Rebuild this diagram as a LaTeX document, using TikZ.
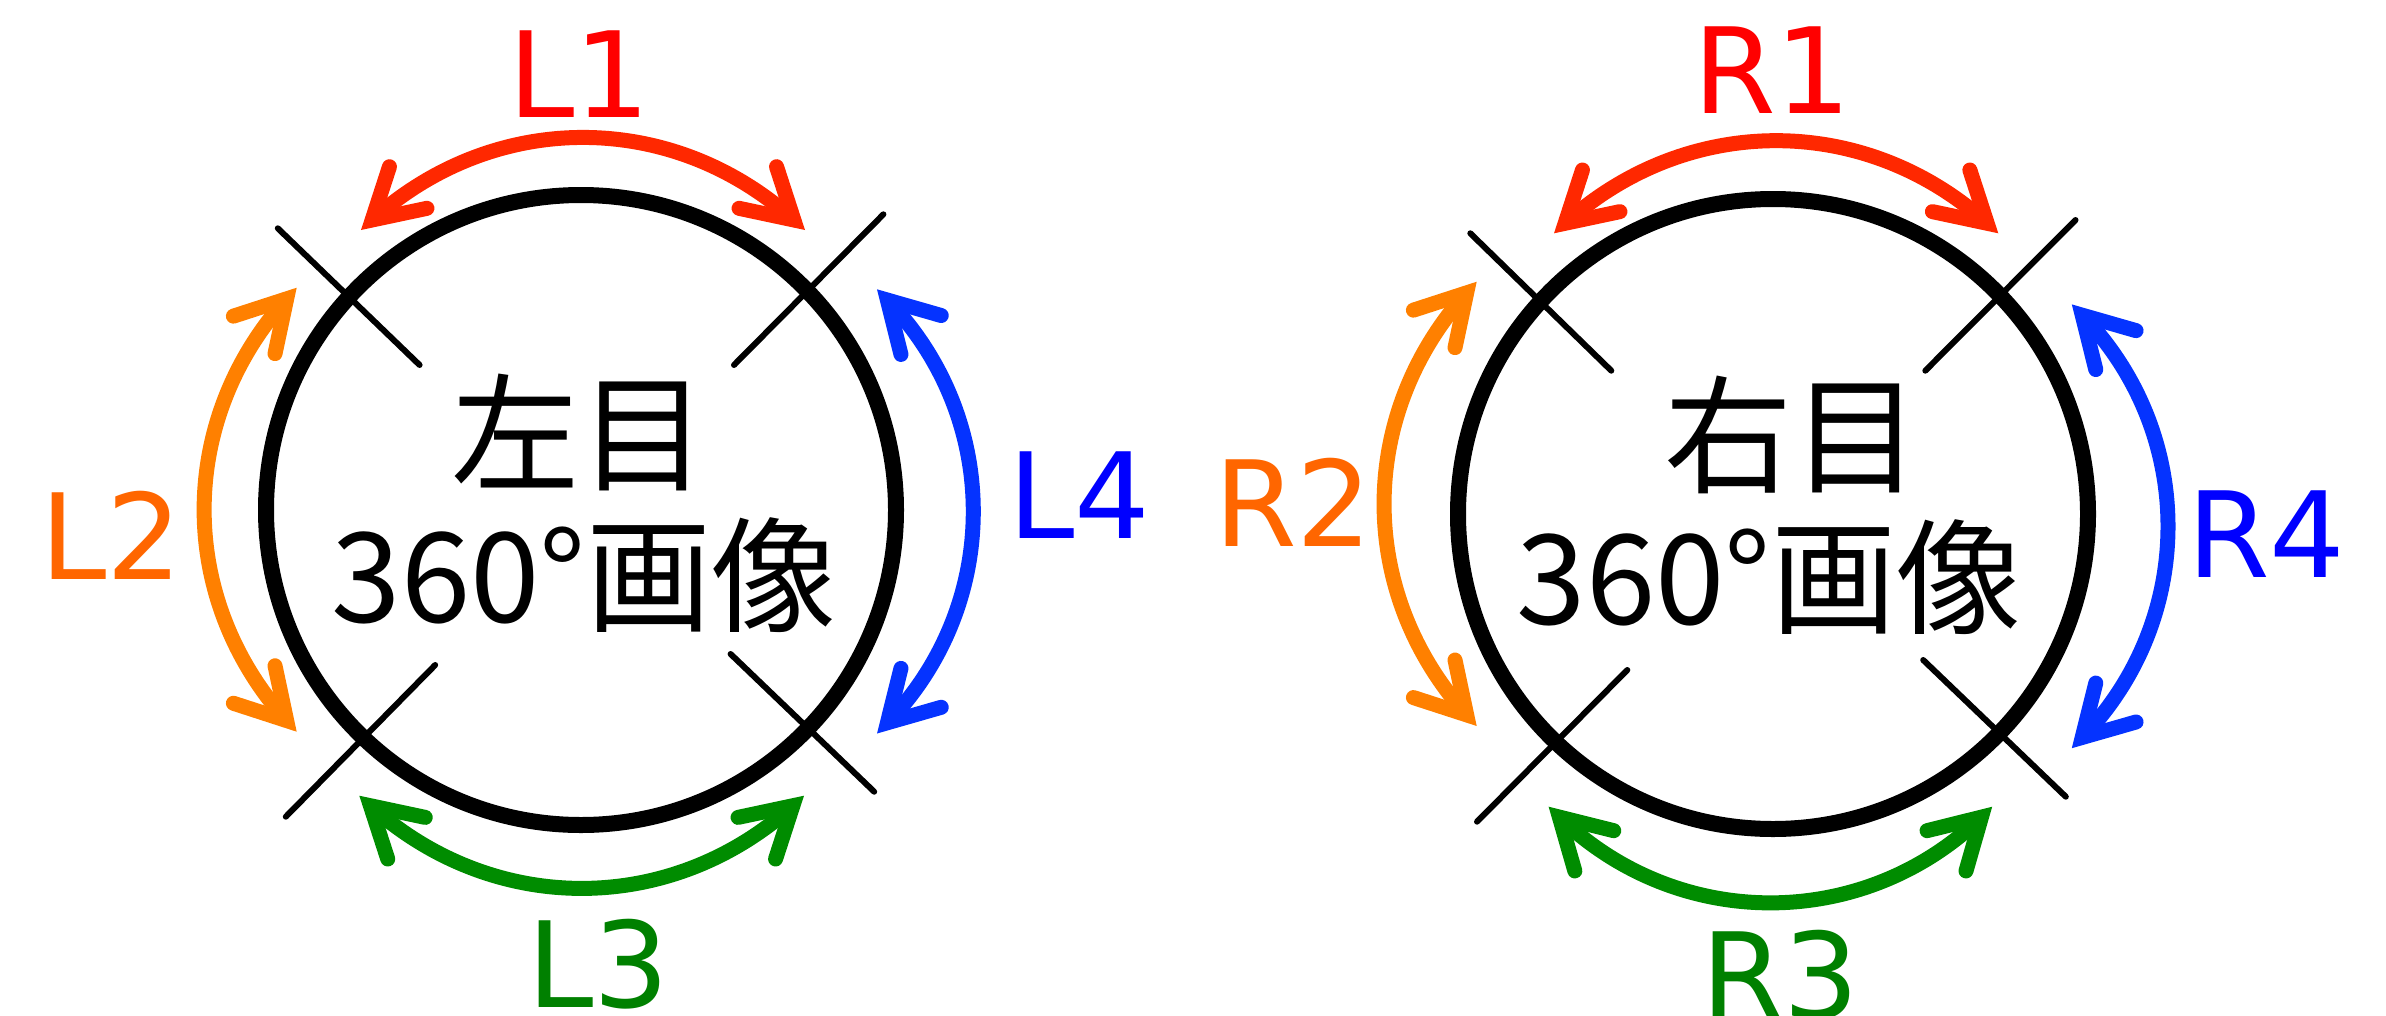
\documentclass[tikz,border=0pt]{standalone}
\usepackage{fontspec}
\setmainfont{DejaVu Sans}
\newfontfamily\jpfont{Noto Sans CJK JP}
\usetikzlibrary{calc}
\definecolor{arrRed}{RGB}{255,40,0}
\definecolor{txtRed}{RGB}{255,0,0}
\definecolor{arrOrange}{RGB}{255,128,0}
\definecolor{txtOrange}{RGB}{255,102,0}
\definecolor{arrGreen}{RGB}{0,140,0}
\definecolor{txtGreen}{RGB}{0,128,0}
\definecolor{arrBlue}{RGB}{5,51,255}
\definecolor{txtBlue}{RGB}{0,0,255}
% #1,#2: tip coordinates; #3,#4: back directions at the tips; #5: bend; #6: colour
\newcommand\dblarrow[6]{%
  \coordinate (#1p) at ($(#1)+(#3:15)$);
  \coordinate (#2p) at ($(#2)+(#4:15)$);
  \draw[shaft,#6] (#1p) to[#5] (#2p);
  \draw[head,#6] (#1p) ++(#3+30:56) -- (#1p) -- ++(#3-30:56);
  \draw[head,#6] (#2p) ++(#4+30:56) -- (#2p) -- ++(#4-30:56);
}
\begin{document}
\begin{tikzpicture}[x=1pt,y=1pt,
  eye/.style={circle, draw, line width=16pt, minimum size=630pt, inner sep=0pt},
  tick/.style={line width=6pt, line cap=round},
  shaft/.style={line width=15pt, line cap=butt},
  head/.style={line width=15pt, line cap=round, line join=miter, miter limit=10},
  lab/.style={inner sep=0pt, anchor=base west, font=\fontsize{119}{130}\selectfont},
  intext/.style={inner sep=0pt, anchor=base, font=\jpfont\fontsize{128}{150}\selectfont},
  intextb/.style={inner sep=0pt, anchor=base, font=\jpfont\fontsize{125}{150}\selectfont},
]
\useasboundingbox (0,0) rectangle (2386,-1015);
% ---------- left eye ----------
\node[eye] (lc) at (581,-510) {};
\node[intext] (lt1) at (579,-481) {左目};
\node[intextb] (lt2) at (584,-622) {360°画像};
\coordinate (ltla) at (277.8,-228.3); \coordinate (ltlb) at (419.6,-365);
\coordinate (ltra) at (883.4,-214.3); \coordinate (ltrb) at (734,-365);
\coordinate (lbla) at (435.2,-665);   \coordinate (lblb) at (285.8,-816.7);
\coordinate (lbra) at (730.6,-654);   \coordinate (lbrb) at (874.2,-791.7);
\draw[tick] (ltla) -- (ltlb);
\draw[tick] (ltra) -- (ltrb);
\draw[tick] (lbla) -- (lblb);
\draw[tick] (lbra) -- (lbrb);
\coordinate (l1a) at (361,-230);     \coordinate (l1b) at (805,-230);
\coordinate (l2a) at (296.7,-287.7); \coordinate (l2b) at (296.7,-731.7);
\coordinate (l3a) at (359.3,-795.7); \coordinate (l3b) at (804,-795.7);
\coordinate (l4a) at (877,-289.3);   \coordinate (l4b) at (877,-733.5);
\dblarrow{l1a}{l1b}{42}{138}{bend left=42}{arrRed}
\dblarrow{l2a}{l2b}{228}{132}{bend right=42}{arrOrange}
\dblarrow{l3a}{l3b}{-42}{222}{bend right=42}{arrGreen}
\dblarrow{l4a}{l4b}{314}{46}{bend left=44}{arrBlue}
\node[lab, txtRed] (L1) at (508,-117) {L1};
\node[lab, txtOrange] (L2) at (40,-579) {L2};
\node[lab, txtGreen] (L3) at (527,-1007) {L3};
\node[lab, txtBlue] (L4) at (1008,-538) {L4};
% ---------- right eye ----------
\node[eye] (rc) at (1773,-514) {};
\node[intext] (rt1) at (1792,-483) {右目};
\node[intextb] (rt2) at (1769,-624) {360°画像};
\coordinate (rtla) at (1470.3,-233.3); \coordinate (rtlb) at (1611.3,-370.7);
\coordinate (rtra) at (2075.5,-220);   \coordinate (rtrb) at (1925.3,-370.7);
\coordinate (rbla) at (1627.3,-670);   \coordinate (rblb) at (1477,-821.7);
\coordinate (rbra) at (1923.2,-660);   \coordinate (rbrb) at (2065.8,-796.7);
\draw[tick] (rtla) -- (rtlb);
\draw[tick] (rtra) -- (rtrb);
\draw[tick] (rbla) -- (rblb);
\draw[tick] (rbra) -- (rbrb);
\coordinate (r1a) at (1554,-233.3);   \coordinate (r1b) at (1998.3,-233.3);
\coordinate (r2a) at (1476.7,-281.7); \coordinate (r2b) at (1476.7,-726);
\coordinate (r3a) at (1548.6,-806.7); \coordinate (r3b) at (1992.2,-806.7);
\coordinate (r4a) at (2071.8,-304.4); \coordinate (r4b) at (2071.8,-748.2);
\dblarrow{r1a}{r1b}{42}{138}{bend left=42}{arrRed}
\dblarrow{r2a}{r2b}{228}{132}{bend right=42}{arrOrange}
\dblarrow{r3a}{r3b}{-44}{224}{bend right=44}{arrGreen}
\dblarrow{r4a}{r4b}{314}{46}{bend left=44}{arrBlue}
\node[lab, txtRed] (R1) at (1693,-113) {R1};
\node[lab, txtOrange] (R2) at (1214,-546) {R2};
\node[lab, txtGreen] (R3) at (1701,-1018) {R3};
\node[lab, txtBlue] (R4) at (2187,-577) {R4};
\end{tikzpicture}
\end{document}
